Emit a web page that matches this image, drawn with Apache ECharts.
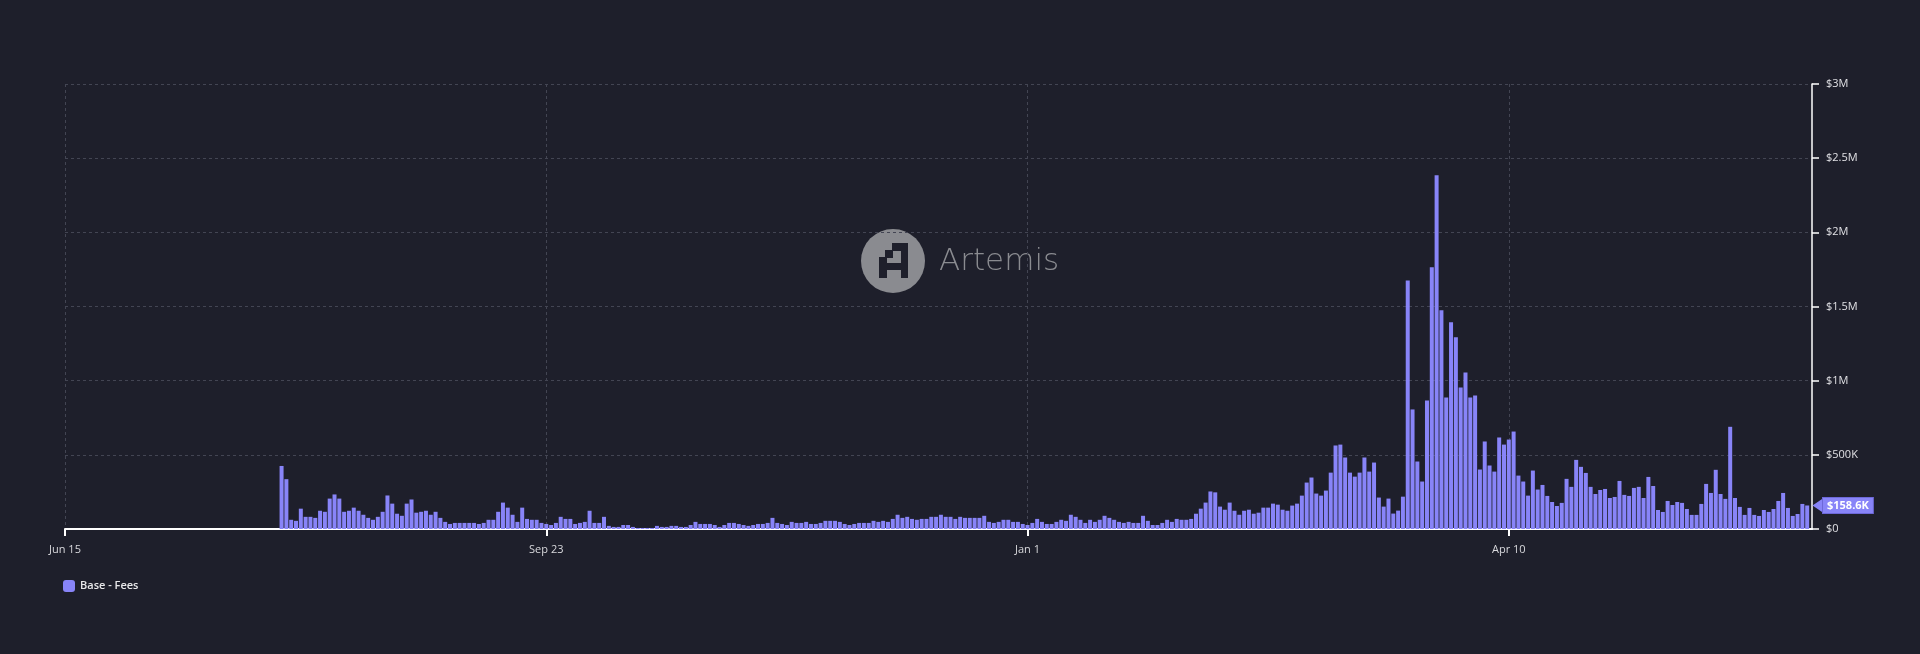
<!DOCTYPE html>
<html>
<head>
<meta charset="utf-8">
<script src="https://cdn.jsdelivr.net/npm/echarts@6/dist/echarts.min.js"></script>
<style>
html,body{margin:0;padding:0;background:#1e1f2b;}
#chart{width:1920px;height:654px;}
</style>
</head>
<body>
<div id="chart"></div>
<script>
// ---- data ----
const seriesName = 'Base - Fees';
const axisStartDate = '2023-06-15';
const axisEndDate = '2024-06-12';
const firstDataDate = '2023-07-30';
// daily fees in thousands of USD, from 2023-07-30 to 2024-06-11
const feesK = [
  425, 336, 62, 55, 137, 82, 82, 75, 123, 116, 205, 233, 205, 116, 123, 144, 123, 96, 75, 62,
  82, 116, 226, 171, 103, 89, 171, 199, 110, 116, 123, 96, 116, 75, 48, 34, 41, 41, 41, 41,
  41, 34, 41, 62, 62, 116, 178, 144, 96, 48, 144, 68,
  62, 62, 41, 34, 27, 41, 82, 68, 68, 34, 41, 48, 123, 41, 41, 82, 21, 14, 14, 27,
  27, 14, 7, 7, 7, 7, 21, 14, 14, 21, 21, 14, 14, 27, 48, 34, 34, 34, 27, 14,
  27, 41, 41, 34, 27, 21, 27, 34, 34, 41, 75, 41, 34, 27,
  48, 41, 41, 48, 34, 34, 41, 55, 55, 55, 48, 34, 27, 34, 41, 41, 41, 55, 48, 55,
  48, 68, 96, 75, 82, 68, 62, 68, 68, 82, 82, 96, 82, 82, 68, 82, 75, 75, 75, 75,
  89, 48, 41, 48, 62, 62, 48, 48, 34, 27, 41, 68, 48, 34,
  34, 48, 62, 55, 96, 82, 62, 41, 62, 48, 62, 89, 75, 62, 48, 41, 48, 41, 41, 89,
  55, 27, 27, 41, 62, 48, 68, 62, 62, 68, 103, 137, 178, 253, 247, 151, 130, 178, 123, 96,
  123, 130, 103, 110, 144, 144, 171, 164, 130, 123, 158, 171,
  225, 313, 347, 239, 225, 259, 380, 563, 569, 482, 380, 353, 380, 482, 387, 448, 212, 151, 205, 104,
  124, 218, 1676, 806, 455,
  320, 866, 1764, 2385, 1474, 887, 1393, 1292, 954, 1055, 887, 900, 401, 590, 428, 387, 617, 569, 603, 657,
  360, 320, 225, 394, 266,
  297, 223, 182, 155, 176, 338, 284, 466, 419, 378, 284, 236, 263, 270, 209, 216, 324, 230, 223, 277,
  284, 209, 351, 290, 128, 115, 189, 162, 182, 176, 135, 95, 95, 169, 304, 243, 399, 236, 203, 689,
  209, 149, 95, 142, 95, 88, 128, 115, 135, 189, 243, 142, 88, 101, 169, 158.6
];
const yMin = 0, yMax = 3000000, yStep = 500000;
const xLabelEvery = 100;

// ---- build categories ----
const monthNames = ['Jan','Feb','Mar','Apr','May','Jun','Jul','Aug','Sep','Oct','Nov','Dec'];
const dayMs = 86400000;
const t0 = Date.parse(axisStartDate + 'T00:00:00Z');
const t1 = Date.parse(axisEndDate + 'T00:00:00Z');
const tFirst = Date.parse(firstDataDate + 'T00:00:00Z');
const categories = [];
for (let t = t0; t <= t1; t += dayMs) {
  const d = new Date(t);
  categories.push(monthNames[d.getUTCMonth()] + ' ' + d.getUTCDate());
}
const offset = Math.round((tFirst - t0) / dayMs);
const values = categories.map((c, i) => {
  const k = i - offset;
  return (k >= 0 && k < feesK.length) ? feesK[k] * 1000 : null;
});
const lastValue = feesK[feesK.length - 1] * 1000;

function money(v) {
  if (v === 0) return '$0';
  if (v >= 1e6) return '$' + (+(v / 1e6).toFixed(2)) + 'M';
  return '$' + (+(v / 1e3).toFixed(1)) + 'K';
}

const barColor = '#8884f8';
const gridColor = '#434553';
const font = 'Open Sans, Noto Sans, sans-serif';

const chart = echarts.init(document.getElementById('chart'), null, {renderer: 'canvas'});
chart.setOption({
  backgroundColor: '#1e1f2b',
  animation: false,
  textStyle: {fontFamily: font},
  grid: {left: 65, right: 108, top: 84, bottom: 125, containLabel: false},
  legend: {
    left: 58, top: 575, itemWidth: 12, itemHeight: 12, icon: 'roundRect',
    textStyle: {color: '#e8e8ea', fontSize: 11, fontWeight: 600, fontFamily: font},
    data: [seriesName]
  },
  graphic: [{
    type: 'group', left: 861, top: 229, z: -10, silent: true,
    children: [
      {type: 'circle', shape: {cx: 32, cy: 32, r: 32}, style: {fill: '#8a8b90'}},
      {type: 'rect', shape: {x: 31, y: 14, width: 16, height: 8}, style: {fill: '#1e1f2b'}},
      {type: 'rect', shape: {x: 40, y: 14, width: 7, height: 35}, style: {fill: '#1e1f2b'}},
      {type: 'rect', shape: {x: 24, y: 21, width: 8, height: 8}, style: {fill: '#1e1f2b'}},
      {type: 'rect', shape: {x: 18, y: 28, width: 8, height: 21}, style: {fill: '#1e1f2b'}},
      {type: 'rect', shape: {x: 18, y: 34, width: 29, height: 7}, style: {fill: '#1e1f2b'}},
      {type: 'text', x: 78, y: 33, style: {text: 'Artemis', fill: '#8a8b90', fontSize: 31, fontWeight: 300, fontFamily: 'DejaVu Sans, sans-serif', verticalAlign: 'middle'}}
    ]
  }],
  xAxis: {
    type: 'category', data: categories, boundaryGap: false,
    axisLine: {show: true, lineStyle: {color: '#ffffff', width: 2}},
    axisTick: {show: true, interval: xLabelEvery - 1, length: 7, lineStyle: {color: '#ffffff', width: 2}},
    axisLabel: {interval: xLabelEvery - 1, color: '#d8d8dc', fontSize: 11, margin: 15, fontFamily: font},
    splitLine: {show: true, interval: xLabelEvery - 1, lineStyle: {color: gridColor, type: [3, 3], width: 1}}
  },
  yAxis: {
    type: 'value', position: 'right', min: yMin, max: yMax, interval: yStep,
    axisLine: {show: true, lineStyle: {color: '#ffffff', width: 1.5}},
    axisTick: {show: true, length: 7, lineStyle: {color: '#ffffff', width: 1.5}},
    axisLabel: {color: '#e0e0e4', fontSize: 11, margin: 14, formatter: money, fontFamily: font},
    splitLine: {show: true, lineStyle: {color: gridColor, type: [3, 3], width: 1}}
  },
  series: [{
    name: seriesName, type: 'bar', data: values, barWidth: 4,
    itemStyle: {color: barColor},
    markLine: {
      silent: true, symbol: 'none',
      lineStyle: {color: 'rgba(0,0,0,0)', width: 1, type: 'solid'},
      label: {
        show: true, position: 'end', distance: 11,
        formatter: () => money(lastValue),
        color: '#ffffff', fontWeight: 'bold', fontSize: 11, fontFamily: font,
        backgroundColor: barColor, borderColor: '#6d68d8', borderWidth: 1,
        padding: [1, 4, 1, 4], lineHeight: 13
      },
      data: [{yAxis: lastValue}]
    },
    markPoint: {
      silent: true,
      symbol: 'triangle', symbolRotate: 90, symbolSize: [15, 11], symbolOffset: [6, 0],
      itemStyle: {color: barColor},
      label: {show: false},
      data: [{coord: [categories.length - 1, lastValue]}]
    }
  }]
});
</script>
</body>
</html>
